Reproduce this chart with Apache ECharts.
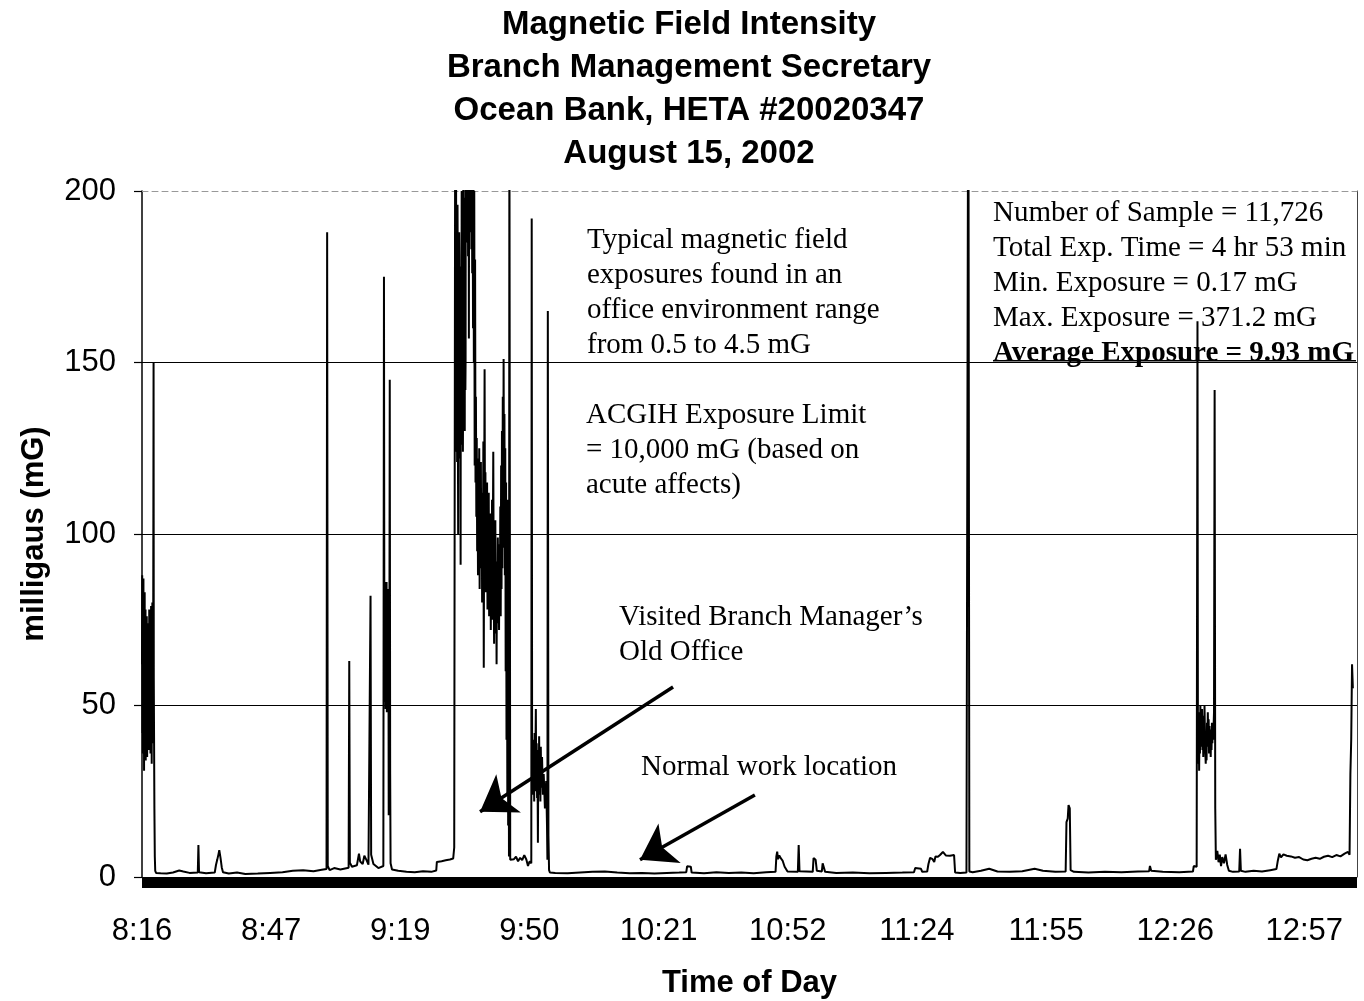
<!DOCTYPE html>
<html><head><meta charset="utf-8">
<script src="https://cdn.jsdelivr.net/npm/echarts@6/dist/echarts.min.js"></script>
<style>html,body{margin:0;padding:0;background:#fff}#c{width:1364px;height:1001px}</style>
</head><body><div id="c"></div>
<script>
// x = minutes since 8:16, y = milligauss
const tickLabels = ['8:16','8:47','9:19','9:50','10:21','10:52','11:24','11:55','12:26','12:57'];
const yTicks = [0, 50, 100, 150, 200];

const startCluster = [[0,62],[0.05,88],[0.1,42],[0.15,86],[0.2,36],[0.25,84],[0.3,48],[0.35,87],[0.4,40],[0.45,79],[0.5,31],[0.55,74],[0.6,44],[0.65,83],[0.7,38],[0.75,66],[0.8,42],[0.85,78],[0.9,34],[0.95,72],[1.0,46],[1.05,69],[1.1,39],[1.15,76],[1.2,52],[1.25,35],[1.3,71],[1.35,45],[1.4,63],[1.45,38],[1.5,74],[1.55,49],[1.6,37],[1.65,67],[1.7,43],[1.75,78],[1.8,46],[1.85,71],[1.9,41],[1.95,77],[2.0,52],[2.05,36],[2.1,73],[2.15,44],[2.2,79],[2.25,40],[2.3,70],[2.35,33],[2.4,76],[2.45,48],[2.5,80],[2.55,42],[2.6,74],[2.65,39],[2.7,62],[2.8,150],[2.85,58],[2.9,45],[3.0,20],[3.1,6],[3.2,1.8],[3.4,1.2]];

const earlyPeriod = [[4.5,1.1],[6,1.0],[7.5,1.3],[9,1.9],[10,1.6],[11.5,1.2],[13.5,1.3],[13.65,9.3],[13.8,1.4],[15.5,1.1],[17.6,1.3],[17.9,3.5],[18.2,5.0],[18.5,6.6],[18.7,7.8],[19.0,5.6],[19.3,2.8],[19.6,1.4],[21,1.0],[23,1.3],[25,0.9],[28,1.0],[31,1.2],[34,1.4],[36.5,1.8],[39,2.0],[41.5,1.7],[43.5,2.1],[44.65,2.3],[44.8,188],[44.95,3.2],[45.4,2.0],[46.5,2.6],[48,2.2],[50.0,2.7],[50.15,63],[50.3,4.2],[50.8,3.0],[52.0,3.4],[52.5,6.8],[52.8,4.5],[53.4,3.8],[53.8,6.2],[54.3,5.0],[54.8,3.6],[55.2,4.0],[55.3,82],[55.45,6.5],[56,3.8],[57.2,2.6],[58.4,3.2],[58.55,175],[58.65,62],[58.72,86],[58.8,51],[58.88,83],[58.95,49],[59.03,80],[59.1,55],[59.18,86],[59.25,48],[59.33,78],[59.4,53],[59.48,84],[59.55,50],[59.63,75],[59.7,18],[59.78,68],[59.85,52],[59.95,145],[60.05,30],[60.15,4],[60.5,2.2],[62,1.8],[64,1.5],[66,1.4],[68,1.7],[70,1.5],[71.2,1.9],[71.35,4.4],[72.5,4.6],[73.5,4.9],[74.5,5.1],[75.3,5.4],[75.55,8.6]];

const oldOfficeVisit = [[75.8,240],[75.85,140],[75.9,150],[75.95,205],[76.0,210],[76.05,135],[76.1,124],[76.15,190],[76.2,185],[76.25,121],[76.3,132],[76.35,196],[76.4,178],[76.45,126],[76.5,100],[76.55,175],[76.6,168],[76.65,130],[76.7,128],[76.75,188],[76.8,181],[76.85,124],[76.9,122],[76.95,170],[77.0,160],[77.05,120],[77.1,91],[77.15,178],[77.2,150],[77.25,128],[77.3,135],[77.35,200],[77.4,190],[77.45,131],[77.5,126],[77.55,182],[77.6,172],[77.65,124],[77.7,140],[77.75,210],[77.8,205],[77.85,138],[77.9,145],[77.95,198],[78.0,183],[78.05,136],[78.1,130],[78.15,190],[78.2,176],[78.25,142],[78.3,150],[78.35,225],[78.4,215],[78.5,185],[78.6,230],[78.7,192],[78.8,250],[78.9,181],[79.0,240],[79.1,157],[79.2,260],[79.3,188],[79.4,371.2],[79.5,190],[79.6,235],[79.7,183],[79.8,225],[79.9,176],[80.0,210],[80.1,160],[80.2,215],[80.3,150],[80.4,200],[80.5,120],[80.6,180],[80.7,115],[80.8,140],[80.9,105],[81.0,128],[81.1,95],[81.2,122],[81.3,88],[81.4,118],[81.5,100],[81.6,125],[81.7,84],[81.8,115],[81.9,96],[82.0,121],[82.1,90],[82.2,112],[82.3,80],[82.4,108],[82.5,94],[82.6,127],[82.7,61],[82.8,110],[82.9,148],[83.0,98],[83.1,118],[83.2,83],[83.3,106],[83.4,92],[83.5,115],[83.6,78],[83.7,103],[83.8,88],[83.9,112],[84.0,76],[84.1,98],[84.2,85],[84.3,106],[84.4,72],[84.5,95],[84.6,82],[84.7,110],[84.8,75],[84.9,100],[85.0,124],[85.1,88],[85.2,68],[85.3,96],[85.4,80],[85.5,104],[85.6,71],[85.7,92],[85.8,62],[85.9,90],[86.0,78],[86.1,99],[86.2,74],[86.3,88],[86.4,72],[86.5,97],[86.6,80],[86.7,108],[86.8,76],[86.9,120],[87.0,84],[87.1,130],[87.2,90],[87.3,140],[87.4,96],[87.5,151],[87.6,105],[87.7,135],[87.8,88],[87.9,125],[88.0,60],[88.1,115],[88.2,40],[88.3,100],[88.4,24],[88.5,110],[88.6,15],[88.7,95],[88.8,6],[88.9,230],[89.0,120],[89.1,5],[89.3,5.5],[90.0,5.2],[90.5,5.9],[91.0,4.6],[91.5,5.6],[92.0,4.9],[92.5,6.4],[93.0,5.1],[93.4,3.2],[93.8,4.6],[94.2,4.0],[94.3,192],[94.4,35],[94.5,26],[94.6,40],[94.7,24],[94.8,38],[94.9,22],[95.0,42],[95.1,28],[95.2,36],[95.3,49],[95.4,25],[95.5,39],[95.6,23],[95.7,34],[95.8,10],[95.9,37],[96.0,27],[96.1,41],[96.2,24],[96.3,33],[96.4,22],[96.5,38],[96.6,26],[96.8,35],[97.0,24],[97.2,30],[97.5,20],[97.8,28],[98.0,15],[98.1,5],[98.2,165],[98.35,12],[98.5,2],[98.7,1.3]];

const middayPeriod = [[100,1.2],[103,1.1],[106,1.3],[109,1.5],[112,1.6],[115,1.3],[118,1.1],[121,1.2],[124,1.0],[127,1.2],[130,1.3],[131.7,1.4],[131.9,3.1],[132.8,3.0],[133.0,1.3],[136,1.1],[139,1.4],[142,1.2],[145,1.3],[148,1.1],[151,1.4],[153.3,1.5],[153.5,6],[153.7,7.4],[153.9,5.2],[154.2,6.3],[154.6,5.4],[155.0,4.8],[155.5,3.0],[156.2,1.6],[158.7,1.5],[158.9,9.3],[159.1,1.7],[162.3,1.5],[162.5,5.5],[163.0,5.0],[163.3,1.8],[164.5,1.6],[164.7,4.0],[165.1,3.8],[165.3,1.5],[168,1.2],[172,1.3],[176,1.1],[180,1.2],[184,1.3],[186.8,1.4],[187.1,2.6],[188.5,2.4],[188.8,1.5],[190.0,1.6],[190.3,3.8],[190.7,5.6],[191.3,5.2],[191.7,4.4],[192.0,6.0],[192.6,5.9],[193.1,6.4],[193.8,7.3],[194.5,6.3],[195.5,6.2],[196.5,6.4],[196.75,1.3],[198,1.2],[199.5,1.3],[199.95,260],[200.2,1.6]];

const afternoonPeriod = [[201,1.4],[203,1.8],[205,2.4],[207,1.6],[210,1.5],[213,1.7],[216,2.4],[218,1.8],[221,1.5],[223.5,1.6],[223.7,16],[224.0,17],[224.2,21],[224.5,20],[224.7,2.0],[225.5,1.5],[229,1.3],[233,1.5],[237,1.4],[241,1.6],[243.7,1.7],[243.9,3.2],[244.2,1.8],[247,1.5],[251,1.4],[254.3,1.6],[254.5,3.2],[255.2,3.0],[255.4,162],[255.5,45],[255.6,33],[255.7,48],[255.8,31],[255.9,44],[256.0,36],[256.1,50],[256.2,38],[256.3,46],[256.4,41],[256.5,49],[256.6,37],[256.7,44],[256.8,35],[256.9,47],[257.0,39],[257.1,50],[257.2,42],[257.3,36],[257.4,33],[257.5,41],[257.6,34],[257.7,45],[257.8,38],[257.9,48],[258.0,40],[258.1,46],[258.2,36],[258.3,44],[258.4,38],[258.5,42],[258.6,35],[258.7,43],[258.8,37],[258.9,45],[259.0,39],[259.1,44],[259.2,40],[259.4,48],[259.55,142],[259.7,20],[259.85,5],[260.2,7.6],[260.5,4.3],[260.8,6.5],[261.1,3.2],[261.4,5.8],[261.8,4.0],[262.2,6.6],[262.6,3.5],[263.0,1.8],[264,1.5],[265.5,1.6],[265.7,8.2],[265.9,1.8],[267,1.5],[269,1.8],[271,1.6],[273,2.0],[274.5,2.3],[274.8,4.5],[275.2,6.8],[275.6,5.7],[276.2,6.6],[277,6.2],[278,6.0],[279,5.6],[280,5.8],[281,5.1],[282,4.9],[283,5.3],[284,5.6],[285,5.3],[286,5.9],[287,6.2],[288,5.8],[289,6.4],[290,6.0],[291,6.8],[291.8,7.3],[292.2,6.5],[292.4,30],[292.6,40],[292.8,62],[293,55]];

// annotation arrows, in data coordinates [minutes, mG]
const arrowOldOffice = [[128.5,55.4],[81.8,19]];
const arrowNormal = [[148.3,23.9],[120.5,5.0]];

const readings = [].concat(startCluster, earlyPeriod, oldOfficeVisit, middayPeriod, afternoonPeriod);

const TICK_STEP = 31.25;
const sans = '"Liberation Sans", Arial, sans-serif';
const serif = '"Liberation Serif", "Times New Roman", serif';

const chart = echarts.init(document.getElementById('c'), null, {renderer: 'canvas'});
chart.setOption({
  animation: false,
  backgroundColor: '#fff',
  title: {
    text: 'Magnetic Field Intensity\nBranch Management Secretary\nOcean Bank, HETA #20020347\nAugust 15, 2002',
    left: 684, top: -2, textAlign: 'center',
    textStyle: {fontFamily: sans, fontSize: 33, fontWeight: 'bold', lineHeight: 43, color: '#000'}
  },
  grid: {left: 142, right: 7, top: 191, bottom: 124, containLabel: false, outerBoundsMode: 'none'},
  xAxis: [{
    type: 'value', min: 0, max: 294, interval: TICK_STEP, position: 'bottom', offset: 5,
    axisLine: {show: true, onZero: false, lineStyle: {color: '#000', width: 11, cap: 'butt'}},
    axisTick: {show: false},
    splitLine: {show: false},
    axisLabel: {
      margin: 34, fontFamily: sans, fontSize: 31, color: '#000',
      formatter: function (v) {
        const i = Math.round(v / TICK_STEP);
        return (Math.abs(i * TICK_STEP - v) < 1e-6 && i < tickLabels.length) ? tickLabels[i] : '';
      }
    },
    name: 'Time of Day', nameLocation: 'middle', nameGap: 86,
    nameTextStyle: {fontFamily: sans, fontSize: 31, fontWeight: 'bold', color: '#000'}
  }, {
    type: 'value', min: 0, max: 294, position: 'top',
    axisLine: {show: true, onZero: false, lineStyle: {color: '#999', width: 1, type: [6, 4]}},
    axisTick: {show: false}, axisLabel: {show: false}, splitLine: {show: false}
  }],
  yAxis: [{
    type: 'value', min: yTicks[0], max: yTicks[yTicks.length - 1], interval: 50,
    axisLine: {show: true, onZero: false, lineStyle: {color: '#000', width: 1.5}},
    axisTick: {show: true, length: 8, lineStyle: {color: '#000', width: 1.2}},
    axisLabel: {margin: 26, fontFamily: sans, fontSize: 31, color: '#000'},
    splitLine: {show: true, showMinLine: false, showMaxLine: false, lineStyle: {color: '#000', width: 1.2}},
    name: 'milligaus (mG)', nameLocation: 'middle', nameGap: 92, nameRotate: 90,
    nameTextStyle: {fontFamily: sans, fontSize: 31, fontWeight: 'bold', color: '#000'}
  }, {
    type: 'value', min: 0, max: 200, position: 'right',
    axisLine: {show: true, onZero: false, lineStyle: {color: '#444', width: 1}},
    axisTick: {show: false}, axisLabel: {show: false}, splitLine: {show: false}
  }],
  series: [{
    type: 'line',
    data: readings,
    xAxisIndex: 0, yAxisIndex: 0,
    showSymbol: false, symbol: 'none',
    clip: true,
    lineStyle: {color: '#000', width: 2},
    emphasis: {disabled: true},
    silent: true,
    markLine: {
      silent: true,
      symbol: ['none', 'arrow'],
      symbolSize: 34,
      label: {show: false},
      lineStyle: {color: '#000', width: 3.5, type: 'solid'},
      emphasis: {disabled: true},
      data: [
        [{coord: arrowOldOffice[0]}, {coord: arrowOldOffice[1]}],
        [{coord: arrowNormal[0]}, {coord: arrowNormal[1]}]
      ]
    }
  }],
  graphic: [
    {type: 'text', left: 587, top: 223, silent: true,
     style: {text: 'Typical magnetic field\nexposures found in an\noffice environment range\nfrom 0.5 to 4.5 mG', fontFamily: serif, fontSize: 29, lineHeight: 35, fill: '#000'}},
    {type: 'text', left: 586, top: 398, silent: true,
     style: {text: 'ACGIH Exposure Limit\n= 10,000 mG (based on\nacute affects)', fontFamily: serif, fontSize: 29, lineHeight: 35, fill: '#000'}},
    {type: 'text', left: 619, top: 600, silent: true,
     style: {text: 'Visited Branch Manager\u2019s\nOld Office', fontFamily: serif, fontSize: 29, lineHeight: 35, fill: '#000'}},
    {type: 'text', left: 641, top: 750, silent: true,
     style: {text: 'Normal work location', fontFamily: serif, fontSize: 29, lineHeight: 35, fill: '#000'}},
    {type: 'text', left: 993, top: 196, silent: true,
     style: {text: 'Number of Sample = 11,726\nTotal Exp. Time = 4 hr 53 min\nMin. Exposure = 0.17 mG\nMax. Exposure = 371.2 mG', fontFamily: serif, fontSize: 29, lineHeight: 35, fill: '#000'}},
    {type: 'text', left: 993, top: 336, silent: true,
     style: {text: 'Average Exposure = 9.93 mG', fontFamily: serif, fontSize: 29, fontWeight: 'bold', lineHeight: 35, fill: '#000'}},
    {type: 'rect', left: 993, top: 360, silent: true, shape: {width: 363, height: 1.5}, style: {fill: '#000'}}
  ]
});
</script>
</body></html>
